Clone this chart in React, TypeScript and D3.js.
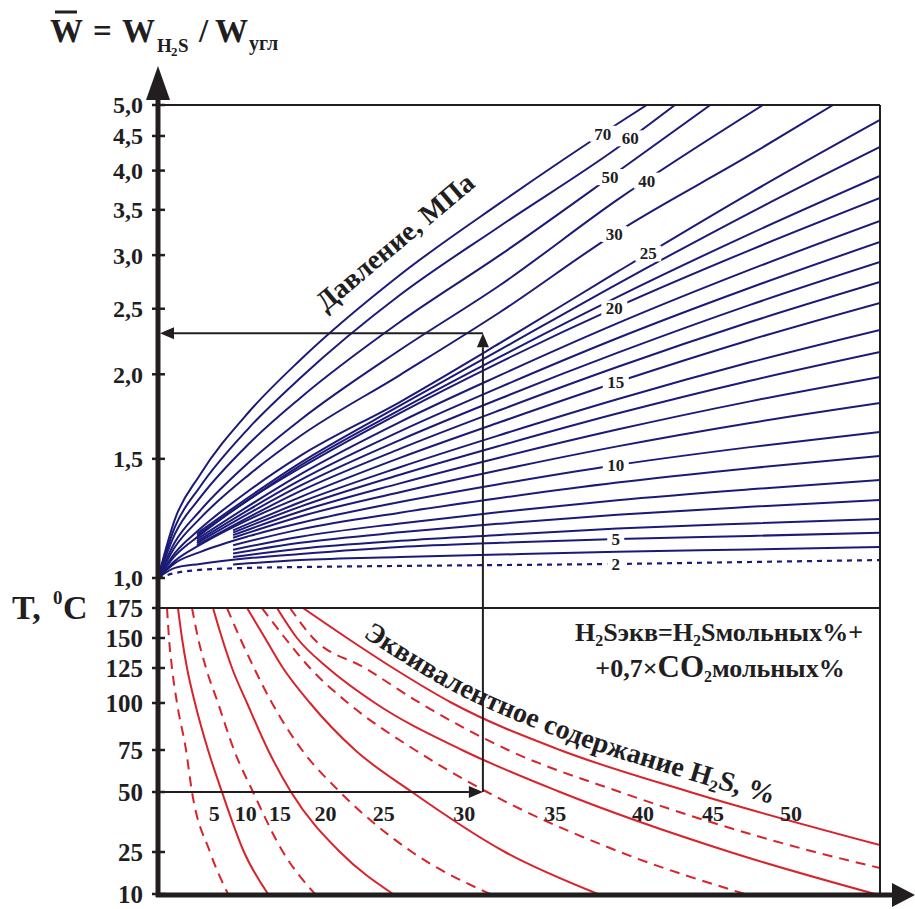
import React from "react";
import * as d3 from "d3";

// W = W_H2S / W_угл axis (log) and temperature axis
const wTicks = [1.0, 1.5, 2.0, 2.5, 3.0, 3.5, 4.0, 4.5, 5.0];
const tTicks = [10, 25, 50, 75, 100, 125, 150, 175];
const tTickY = [894, 852, 792, 750, 703, 668, 638, 608];

// pressure curves, MPa: points are [hidden x 0..100, W]
const pressures = [2, 4, 5, 6, 7, 8, 9, 10, 11, 12, 13, 14, 15, 16, 17, 18, 19, 20, 22, 24, 25, 30, 40, 50, 60, 70];
const pressureCurves: [number, number][][] = [
  [[0, 1], [2.35, 1.017], [5.8, 1.028], [12.7, 1.035], [19.7, 1.038], [33.5, 1.042], [47.4, 1.045], [63.6, 1.049], [82, 1.056], [100, 1.063]],
  [[10.4, 1.047], [19.7, 1.063], [33.5, 1.074], [47.4, 1.083], [63.6, 1.093], [82, 1.102], [100, 1.111]],
  [[0, 1], [2.35, 1.035], [5.8, 1.049], [12.7, 1.07], [19.7, 1.085], [33.5, 1.111], [47.4, 1.127], [63.6, 1.142], [82, 1.154], [100, 1.166]],
  [[10.4, 1.074], [19.7, 1.105], [33.5, 1.135], [47.4, 1.158], [63.6, 1.183], [82, 1.204], [100, 1.222]],
  [[10.4, 1.087], [19.7, 1.127], [33.5, 1.168], [47.4, 1.203], [63.6, 1.24], [82, 1.274], [100, 1.304]],
  [[10.4, 1.101], [19.7, 1.151], [33.5, 1.204], [47.4, 1.252], [63.6, 1.303], [82, 1.352], [100, 1.396]],
  [[10.4, 1.118], [19.7, 1.18], [33.5, 1.249], [47.4, 1.313], [63.6, 1.384], [82, 1.453], [100, 1.515]],
  [[0, 1], [2.35, 1.052], [5.8, 1.092], [12.7, 1.154], [19.7, 1.206], [33.5, 1.295], [47.4, 1.377], [63.6, 1.469], [82, 1.561], [100, 1.644]],
  [[10.4, 1.147], [19.7, 1.233], [33.5, 1.339], [47.4, 1.444], [63.6, 1.565], [82, 1.695], [100, 1.814]],
  [[10.4, 1.157], [19.7, 1.254], [33.5, 1.38], [47.4, 1.507], [63.6, 1.657], [82, 1.824], [100, 1.982]],
  [[10.4, 1.167], [19.7, 1.275], [33.5, 1.421], [47.4, 1.569], [63.6, 1.75], [82, 1.957], [100, 2.158]],
  [[10.4, 1.176], [19.7, 1.294], [33.5, 1.458], [47.4, 1.627], [63.6, 1.837], [82, 2.083], [100, 2.326]],
  [[0, 1], [2.35, 1.06], [5.8, 1.119], [12.7, 1.222], [19.7, 1.317], [33.5, 1.505], [47.4, 1.7], [63.6, 1.948], [82, 2.248], [100, 2.55]],
  [[5.4, 1.118], [19.7, 1.344], [33.5, 1.552], [47.4, 1.771], [63.6, 2.05], [82, 2.389], [100, 2.738]],
  [[5.4, 1.126], [19.7, 1.369], [33.5, 1.599], [47.4, 1.842], [63.6, 2.151], [82, 2.533], [100, 2.931]],
  [[5.4, 1.133], [19.7, 1.395], [33.5, 1.647], [47.4, 1.915], [63.6, 2.261], [82, 2.685], [100, 3.137]],
  [[5.4, 1.141], [19.7, 1.423], [33.5, 1.7], [47.4, 1.994], [63.6, 2.378], [82, 2.855], [100, 3.37]],
  [[0, 1], [2.35, 1.078], [5.8, 1.157], [12.7, 1.308], [19.7, 1.454], [33.5, 1.753], [47.4, 2.085], [63.6, 2.515], [82, 3.052], [100, 3.644]],
  [[5.4, 1.155], [19.7, 1.466], [33.5, 1.772], [47.4, 2.124], [63.6, 2.601], [82, 3.225], [100, 3.928]],
  [[5.4, 1.163], [19.7, 1.48], [33.5, 1.797], [47.4, 2.175], [63.6, 2.719], [82, 3.465], [100, 4.335]],
  [[0, 1], [2.35, 1.089], [5.8, 1.181], [12.7, 1.349], [19.7, 1.515], [33.5, 1.82], [47.4, 2.225], [63.6, 2.833], [82, 3.706], [100, 4.752]],
  [[0, 1], [2.35, 1.111], [5.8, 1.224], [12.7, 1.424], [19.7, 1.621], [33.5, 1.995], [47.4, 2.472], [63.6, 3.245], [82, 4.218], [93.5, 5]],
  [[0, 1], [2.35, 1.13], [5.8, 1.256], [12.7, 1.486], [19.7, 1.712], [33.5, 2.172], [47.4, 2.71], [63.6, 3.62], [83.8, 5]],
  [[0, 1], [2.35, 1.162], [5.8, 1.313], [12.7, 1.583], [19.7, 1.845], [33.5, 2.389], [47.4, 3.002], [63.6, 3.981], [76.5, 5]],
  [[0, 1], [2.35, 1.19], [5.8, 1.363], [12.7, 1.671], [19.7, 1.975], [33.5, 2.619], [47.4, 3.313], [63.6, 4.319], [71.6, 5]],
  [[0, 1], [2.35, 1.222], [5.8, 1.42], [12.7, 1.765], [19.7, 2.1], [33.5, 2.804], [47.4, 3.583], [63.6, 4.687], [67.7, 5]],
];
const pressureLabels = [2, 5, 10, 15, 20, 25, 30, 40, 50, 60, 70];
const pressureLabelU: Record<number, number> = { 2: 63.4, 5: 63.4, 10: 63.4, 15: 63.4, 20: 63.2, 25: 67.9, 30: 63.2, 40: 67.7, 50: 62.6, 60: 65.4, 70: 61.6 };

// equivalent H2S content, %: points are [hidden x 0..100, T °C]
const h2sLevels = [5, 10, 15, 20, 25, 30, 35, 40, 45, 50];
const h2sCurves: [number, number][][] = [
  [[1.25, 175], [1.52, 150], [1.94, 125], [2.63, 100], [3.88, 75], [4.71, 50], [7.2, 25], [9.7, 10]],
  [[2.77, 175], [3.32, 150], [4.02, 125], [5.12, 100], [6.93, 75], [8.86, 50], [11.91, 25], [15.24, 10]],
  [[4.71, 175], [5.54, 150], [6.65, 125], [8.31, 100], [10.53, 75], [13.16, 50], [17.31, 25], [21.75, 10]],
  [[7.62, 175], [8.86, 150], [10.25, 125], [12.33, 100], [15.24, 75], [18.42, 50], [25.21, 25], [32.55, 10]],
  [[9.56, 175], [11.36, 150], [13.3, 125], [15.79, 100], [19.94, 75], [25.21, 50], [35.18, 25], [45.98, 10]],
  [[12.33, 175], [14.82, 150], [17.31, 125], [21.05, 100], [27.29, 75], [35.18, 50], [48.06, 25], [60.94, 10]],
  [[14.4, 175], [17.59, 150], [21.05, 125], [26.32, 100], [35.6, 75], [45.57, 50], [63.99, 25], [81.3, 10]],
  [[16.48, 175], [19.25, 150], [23.55, 125], [30.06, 100], [42.11, 75], [55.68, 50], [79.22, 25], [99.31, 10]],
  [[18.28, 175], [21.47, 150], [28.67, 125], [36.29, 100], [48.48, 75], [63.99, 50], [91.0, 25], [100, 19.3]],
  [[20.08, 175], [26.18, 150], [32.55, 125], [40.72, 100], [55.68, 75], [73.68, 50], [100, 27.9]],
];

// worked example: T = 50 °C -> H2S line -> W
const exampleT = 50;
const exampleU = 45;
const exampleW = 2.3;

const BLUE = "#1c1a78";
const RED = "#d9232b";
const INK = "#221e1f";
const FONT = "'Liberation Serif', 'Times New Roman', serif";

const x = d3.scaleLinear().domain([0, 100]).range([158, 880]);
const yW = d3.scaleLog().domain([1, 5]).range([578, 105]);
const yT = d3.scaleLinear().domain(tTicks).range(tTickY);

const wLine = d3.line<[number, number]>().x(d => x(d[0])).y(d => yW(d[1])).curve(d3.curveMonotoneX);
const tLine = d3.line<[number, number]>().x(d => x(d[0])).y(d => yT(d[1])).curve(d3.curveMonotoneX);

function yAtU(pts: [number, number][], u: number) {
  for (let i = 0; i < pts.length - 1; i++) {
    const [u0, w0] = pts[i], [u1, w1] = pts[i + 1];
    if (u >= u0 && u <= u1) {
      const k = (u - u0) / (u1 - u0);
      return yW(w0) + k * (yW(w1) - yW(w0));
    }
  }
  return yW(pts[pts.length - 1][1]);
}

function xAtT(pts: [number, number][], t: number) {
  for (let i = 0; i < pts.length - 1; i++) {
    const [u0, t0] = pts[i], [u1, t1] = pts[i + 1];
    if (t <= t0 && t >= t1) {
      const k = (yT(t) - yT(t0)) / (yT(t1) - yT(t0));
      return x(u0) + k * (x(u1) - x(u0));
    }
  }
  return x(pts[pts.length - 1][0]);
}

const Arrow = ({ x1, y1, x2, y2, len = 14, half = 6 }: any) => {
  const a = Math.atan2(y2 - y1, x2 - x1);
  const bx = x2 - len * Math.cos(a), by = y2 - len * Math.sin(a);
  const px = -Math.sin(a) * half, py = Math.cos(a) * half;
  return (
    <g>
      <line x1={x1} y1={y1} x2={bx} y2={by} stroke={INK} strokeWidth={2} />
      <polygon points={`${x2},${y2} ${bx + px},${by + py} ${bx - px},${by - py}`} fill={INK} />
    </g>
  );
};

export default function App() {
  const x0 = x(0), x1 = x(100);
  const top = yW(5), mid = yT(175), bottom = 895;

  const textPathPts = h2sCurves[h2sCurves.length - 1].map(([u, t]) => [x(u), yT(t) - 12] as [number, number]);
  const textPathD = d3.line().curve(d3.curveMonotoneX)(textPathPts) || "";

  return (
    <svg width={915} height={909} style={{ position: "absolute", left: 0, top: 0, background: "#fff" }} fontFamily={FONT}>
      <defs>
        <clipPath id="upper"><rect x={x0} y={top} width={x1 - x0} height={mid - top} /></clipPath>
        <clipPath id="lower"><rect x={x0} y={mid} width={x1 - x0} height={bottom - mid} /></clipPath>
        <path id="h2sPath" d={textPathD} fill="none" />
      </defs>

      {/* H2S curves */}
      <g clipPath="url(#lower)">
        {h2sCurves.map((pts, i) => (
          <path key={i} d={tLine(pts) || ""} fill="none" stroke={RED} strokeWidth={2}
            strokeDasharray={h2sLevels[i] % 10 === 5 ? "10 7" : undefined} />
        ))}
      </g>

      {/* pressure curves */}
      <g clipPath="url(#upper)">
        {pressureCurves.map((pts, i) => (
          <path key={i} d={wLine(pts) || ""} fill="none" stroke={BLUE} strokeWidth={pressures[i] === 2 ? 2.2 : 2}
            strokeDasharray={pressures[i] === 2 ? "5 5" : undefined} />
        ))}
      </g>

      {/* pressure labels */}
      {pressureLabels.map(p => {
        const pts = pressureCurves[pressures.indexOf(p)];
        const u = pressureLabelU[p];
        const cx = x(u), cy = yAtU(pts, u);
        const w = String(p).length * 9 + 8;
        return (
          <g key={p}>
            <rect x={cx - w / 2} y={cy - 8} width={w} height={16} fill="#fff" />
            <text x={cx} y={cy} dy="0.35em" textAnchor="middle" fontSize={17} fontWeight="bold" fill={INK}>{p}</text>
          </g>
        );
      })}

      {/* H2S labels */}
      {h2sLevels.map((lv, i) => (
        <text key={lv} x={xAtT(h2sCurves[i], 40) + 15} y={813} dy="0.35em" textAnchor="middle"
          fontSize={22} fontWeight="bold" fill={INK}>{lv}</text>
      ))}

      {/* frame */}
      <line x1={x0} y1={top} x2={x1} y2={top} stroke={INK} strokeWidth={2} />
      <line x1={x1} y1={top} x2={x1} y2={bottom} stroke={INK} strokeWidth={2} />
      <line x1={x0} y1={mid} x2={x1} y2={mid} stroke={INK} strokeWidth={2} />

      {/* example path */}
      <Arrow x1={x0} y1={yT(exampleT)} x2={x(exampleU)} y2={yT(exampleT)} />
      <Arrow x1={x(exampleU)} y1={yT(exampleT)} x2={x(exampleU)} y2={yW(exampleW)} />
      <Arrow x1={x(exampleU)} y1={yW(exampleW)} x2={x0 + 2} y2={yW(exampleW)} />

      {/* axes */}
      <line x1={x0} y1={bottom + 2} x2={x0} y2={96} stroke={INK} strokeWidth={5} />
      <polygon points={`${x0},66 ${x0 - 12},100 ${x0 + 12},100`} fill={INK} />
      <line x1={x0 - 2} y1={bottom} x2={896} y2={bottom} stroke={INK} strokeWidth={5} />
      <polygon points={`915,${bottom} 892,${bottom - 12} 892,${bottom + 12}`} fill={INK} />

      {wTicks.map(w => (
        <g key={w}>
          <line x1={x0 - 6} x2={x0 + 7} y1={yW(w)} y2={yW(w)} stroke={INK} strokeWidth={2.5} />
          <text x={143} y={yW(w)} dy="0.35em" textAnchor="end" fontSize={24} fontWeight="bold" fill={INK}>
            {w.toFixed(1).replace(".", ",")}
          </text>
        </g>
      ))}
      {tTicks.map(t => (
        <g key={t}>
          {t !== 175 && <line x1={x0 - 6} x2={x0 + 7} y1={yT(t)} y2={yT(t)} stroke={INK} strokeWidth={2.5} />}
          <text x={143} y={yT(t)} dy="0.35em" textAnchor="end" fontSize={25} fontWeight="bold" fill={INK}>{t}</text>
        </g>
      ))}
      <line x1={x0 - 6} x2={x0} y1={mid} y2={mid} stroke={INK} strokeWidth={2.5} />

      {/* axis titles */}
      <g fontWeight="bold" fill={INK}>
        <text x={50} y={42} fontSize={33}>W</text>
        <line x1={55} x2={77} y1={12} y2={12} stroke={INK} strokeWidth={3} />
        <text x={93} y={42} fontSize={33}>=</text>
        <text x={122} y={42} fontSize={33}>W</text>
        <text x={157} y={52} fontSize={19}>H</text>
        <text x={171} y={56} fontSize={13}>2</text>
        <text x={178} y={52} fontSize={19}>S</text>
        <text x={199} y={42} fontSize={33}>/</text>
        <text x={215} y={42} fontSize={33}>W</text>
        <text x={249} y={50} fontSize={20}>угл</text>

        <text x={12} y={619} fontSize={34}>T,</text>
        <text x={53} y={604} fontSize={19}>0</text>
        <text x={63} y={619} fontSize={34}>C</text>
      </g>

      <text transform="translate(401,249) rotate(-40)" textAnchor="middle" fontSize={28} fontWeight="bold" fill={INK}>
        Давление, МПа
      </text>

      <text fontSize={28} fontWeight="bold" fill={INK}>
        <textPath href="#h2sPath" startOffset={72}>
          Эквивалентное содержание H<tspan fontSize={17} dy={5}>2</tspan><tspan dy={-5}>S, %</tspan>
        </textPath>
      </text>

      <g fontWeight="bold" fill={INK} textAnchor="middle">
        <text x={719} y={641} fontSize={26}>
          H<tspan fontSize={16} dy={5}>2</tspan><tspan dy={-5}>Sэкв=H</tspan><tspan fontSize={16} dy={5}>2</tspan><tspan dy={-5}>Sмольных%+</tspan>
        </text>
        <text x={720} y={677} fontSize={26}>
          +0,7×<tspan fontSize={31}>CO</tspan><tspan fontSize={16} dy={5}>2</tspan><tspan dy={-5}>мольных%</tspan>
        </text>
      </g>
    </svg>
  );
}
